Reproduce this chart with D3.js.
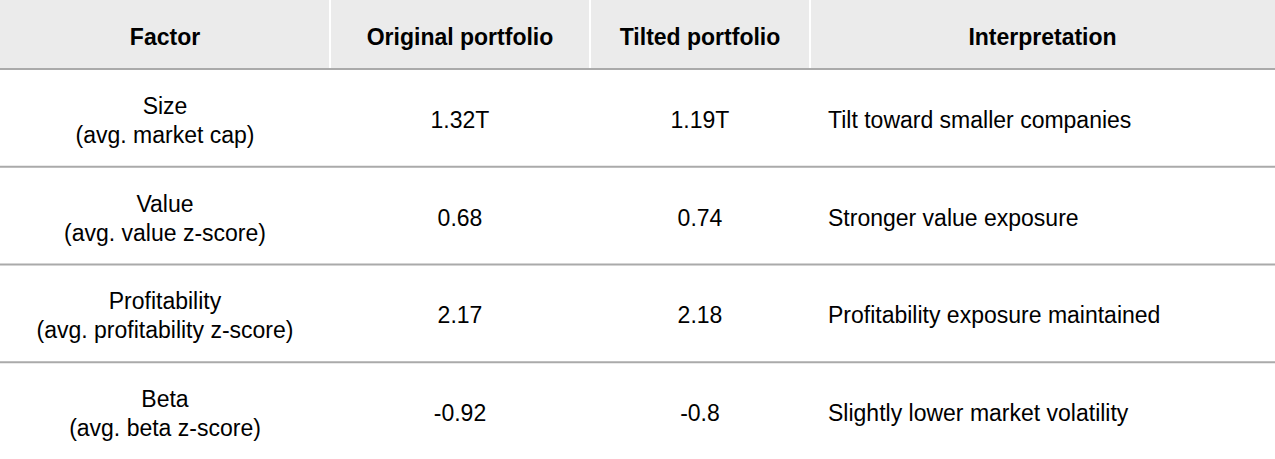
<!DOCTYPE html>
<html>
<head>
<meta charset="utf-8">
<script src="https://cdn.jsdelivr.net/npm/d3@7"></script>
<style>
body { margin: 0; background: #fff; }
text { font-family: "Liberation Sans", Arial, sans-serif; font-size: 23px; fill: #000; }
</style>
</head>
<body>
<div id="chart"></div>
<script>
const headers = ['Factor', 'Original portfolio', 'Tilted portfolio', 'Interpretation'];
const factors = ['Size', 'Value', 'Profitability', 'Beta'];
const factorNotes = ['(avg. market cap)', '(avg. value z-score)', '(avg. profitability z-score)', '(avg. beta z-score)'];
const original = ['1.32T', '0.68', '2.17', '-0.92'];
const tilted = ['1.19T', '0.74', '2.18', '-0.8'];
const interpretation = ['Tilt toward smaller companies', 'Stronger value exposure',
	'Profitability exposure maintained', 'Slightly lower market volatility'];

const width = 1275, height = 459, headH = 69;
const colEdges = [0, 330, 590, 810, 1275];

const svg = d3.select('#chart').append('svg')
	.attr('width', width).attr('height', height);

const y = d3.scaleBand().domain(factors).range([headH, height + 1]);

// header
svg.append('rect').attr('width', width).attr('height', headH).attr('fill', '#ebebeb');
headers.forEach((h, i) => {
	if (i > 0) {
		svg.append('line').attr('x1', colEdges[i]).attr('x2', colEdges[i])
			.attr('y1', 0).attr('y2', headH).attr('stroke', '#fff').attr('stroke-width', 2);
	}
	svg.append('text').attr('x', (colEdges[i] + colEdges[i + 1]) / 2).attr('y', headH / 2 + 2)
		.attr('text-anchor', 'middle').attr('dominant-baseline', 'central')
		.style('font-weight', 'bold').text(h);
});

// row separators
svg.selectAll('.sep').data(factors).enter().append('line')
	.attr('x1', 0).attr('x2', width)
	.attr('y1', d => y(d)).attr('y2', d => y(d))
	.attr('stroke', '#aaa').attr('stroke-width', 2);

const rows = svg.selectAll('.row').data(factors).enter().append('g')
	.attr('transform', d => 'translate(0,' + (y(d) + y.bandwidth() / 2 + 2) + ')');

rows.append('text').attr('x', (colEdges[0] + colEdges[1]) / 2).attr('y', -14)
	.attr('text-anchor', 'middle').attr('dominant-baseline', 'central').text(d => d);
rows.append('text').attr('x', (colEdges[0] + colEdges[1]) / 2).attr('y', 15)
	.attr('text-anchor', 'middle').attr('dominant-baseline', 'central').text((d, i) => factorNotes[i]);
rows.append('text').attr('x', (colEdges[1] + colEdges[2]) / 2)
	.attr('text-anchor', 'middle').attr('dominant-baseline', 'central').text((d, i) => original[i]);
rows.append('text').attr('x', (colEdges[2] + colEdges[3]) / 2)
	.attr('text-anchor', 'middle').attr('dominant-baseline', 'central').text((d, i) => tilted[i]);
rows.append('text').attr('x', colEdges[3] + 18)
	.attr('dominant-baseline', 'central').text((d, i) => interpretation[i]);
</script>
</body>
</html>
